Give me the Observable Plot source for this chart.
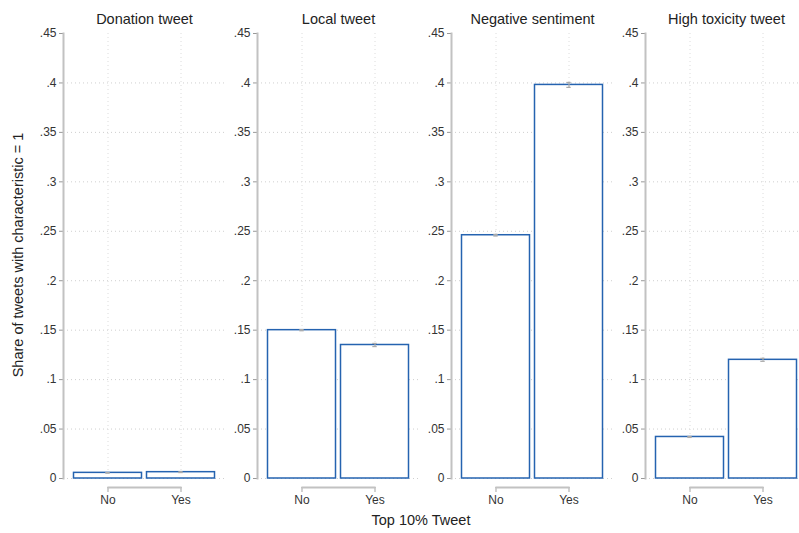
<!DOCTYPE html>
<html><head><meta charset="utf-8">
<script src="https://cdn.jsdelivr.net/npm/d3@7"></script>
<script src="https://cdn.jsdelivr.net/npm/@observablehq/plot@0.6"></script>
<style>
body{margin:0;background:#fff;font-family:"Liberation Sans",Arial,sans-serif}
#wrap{position:relative;width:799px;height:533px;overflow:hidden;background:#fff}
.panel{position:absolute;top:0}
#ytitle{position:absolute;left:18px;top:255px;transform:translate(-50%,-50%) rotate(-90deg);font-size:14.5px;white-space:nowrap;color:#222}
#xtitle{position:absolute;left:421px;top:520px;transform:translate(-50%,-50%);font-size:14.5px;white-space:nowrap;color:#222}
</style></head>
<body>
<div id="wrap">
  <div id="ytitle">Share of tweets with characteristic = 1</div>
  <div id="xtitle">Top 10% Tweet</div>
</div>
<script>
const panels = ["Donation tweet", "Local tweet", "Negative sentiment", "High toxicity tweet"];
const categories = ["No", "Yes"];
const shareNo  = [0.0057, 0.150, 0.246, 0.042];
const shareYes = [0.0064, 0.135, 0.398, 0.120];
const ciNo  = [0.0003, 0.0006, 0.0008, 0.0005];
const ciYes = [0.0004, 0.0016, 0.0025, 0.0015];
const yTicks = [0, 0.05, 0.1, 0.15, 0.2, 0.25, 0.3, 0.35, 0.4, 0.45];
const gridTicks = [0, 0.05, 0.1, 0.15, 0.2, 0.25, 0.3, 0.35, 0.4];

const blue = "#2563b0";
const gray = "#c2c2c2";
const fmt = d => d === 0 ? "0" : String(d).replace(/^0/, "");
const wrap = document.getElementById("wrap");
const lefts = [33, 227, 421, 615];

panels.forEach((title, p) => {
  const rows = [
    {cat: categories[0], value: shareNo[p], ci: ciNo[p]},
    {cat: categories[1], value: shareYes[p], ci: ciYes[p]}
  ];
  const chart = Plot.plot({
    width: 194, height: 510,
    marginLeft: 30, marginRight: 2, marginTop: 33, marginBottom: 32,
    x: {domain: categories, type: "band", paddingInner: 0, paddingOuter: 0.1, axis: null, label: null},
    y: {domain: [0, 0.45], axis: null, label: null},
    style: {fontFamily: '"Liberation Sans", Arial, sans-serif', fontSize: "12px", color: "#333", background: "transparent", overflow: "visible"},
    marks: [
      Plot.gridY(gridTicks, {stroke: "#cfcfcf", strokeOpacity: 1, strokeDasharray: "1,3"}),
      Plot.gridX({stroke: "#dcdcdc", strokeOpacity: 1, strokeDasharray: "1,3"}),
      Plot.axisY(yTicks, {tickSize: 4, tickPadding: 3, tickFormat: fmt, label: null, stroke: "#999", fill: "#333", fontSize: 12}),
      Plot.frame({anchor: "left", stroke: gray, strokeWidth: 2}),
      Plot.barY(rows, {x: "cat", y: "value", fill: "white", stroke: blue, strokeWidth: 1.5, insetLeft: 2.5, insetRight: 2.5}),
      Plot.ruleX(rows, {x: "cat", y1: d => d.value - d.ci, y2: d => d.value + d.ci, stroke: "#aaa", strokeWidth: 1.2}),
      Plot.tickY(rows, {x: "cat", y: d => d.value - d.ci, stroke: "#aaa", strokeWidth: 1.2, insetLeft: 34.3, insetRight: 34.3}),
      Plot.tickY(rows, {x: "cat", y: d => d.value + d.ci, stroke: "#aaa", strokeWidth: 1.2, insetLeft: 34.3, insetRight: 34.3}),
      Plot.line(categories, {x: d => d, y: 0, dy: 9, stroke: gray, strokeWidth: 2}),
      Plot.axisX({tickSize: 5, tickPadding: 3, dy: 9, label: null, stroke: gray, strokeWidth: 1.5, fill: "#333", fontSize: 12}),
      Plot.text([title], {frameAnchor: "top", dy: -20, fontSize: 14.5, fill: "#222"})
    ]
  });
  chart.classList.add("panel");
  chart.style.left = lefts[p] + "px";
  wrap.appendChild(chart);
});
</script>
</body></html>
